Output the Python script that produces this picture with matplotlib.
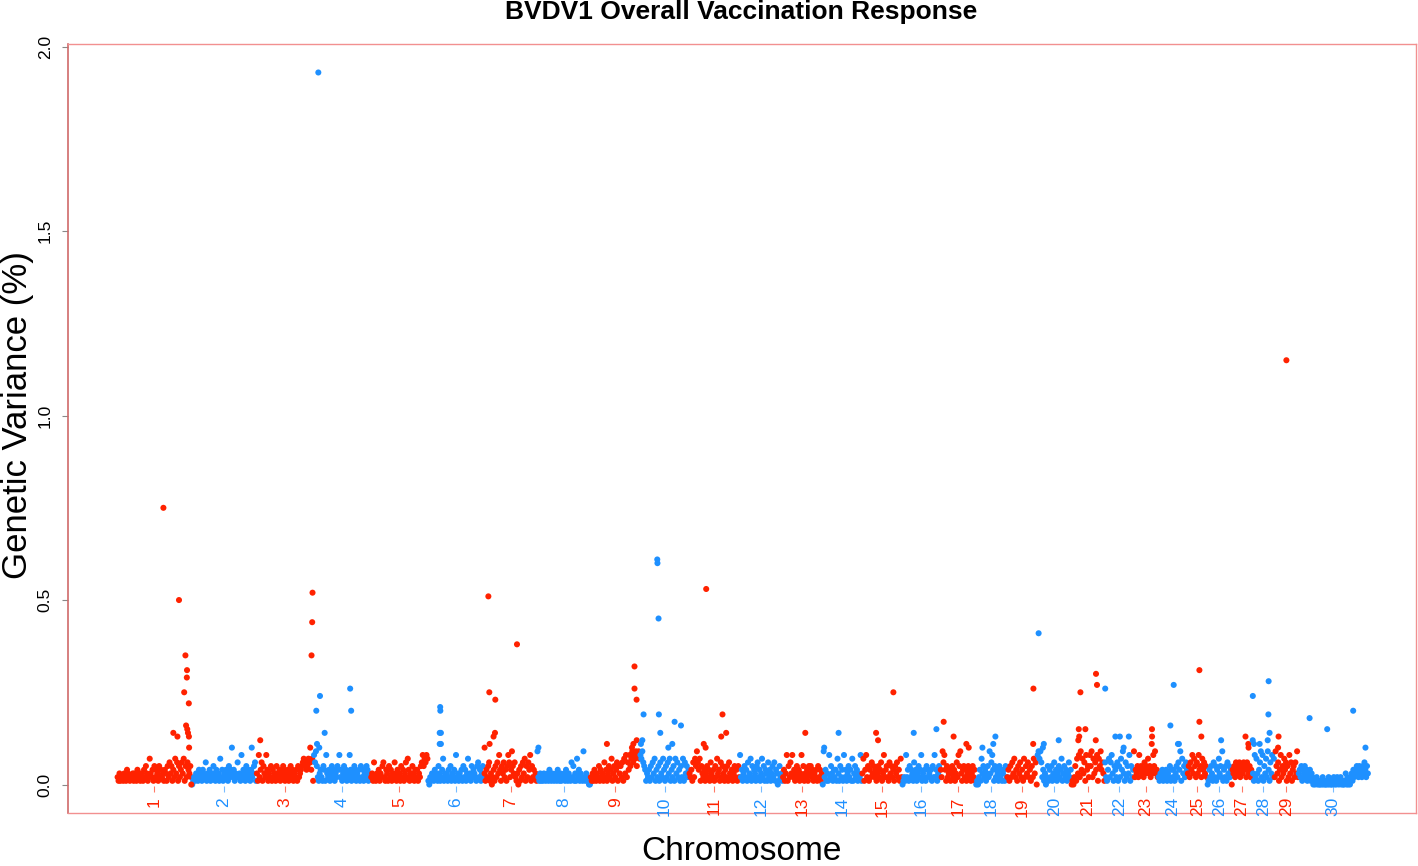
"""BVDV1 overall vaccination response: genetic variance Manhattan plot."""
import matplotlib

matplotlib.use("Agg")
import matplotlib.pyplot as plt
import numpy as np

plt.rcParams["font.family"] = ["Liberation Sans", "DejaVu Sans"]

# chromosome lengths (Mb), chr30 = X
chrom_names = [str(i) for i in range(1, 31)]
chrom_len = [158, 137, 121, 121, 121, 119, 112, 113, 105, 104, 107, 91, 84, 84, 85,
             81, 75, 66, 64, 72, 71, 61, 52, 62, 42, 51, 45, 46, 51, 148]

# background band, one digit per window, in units of 0.01 %
band = [
    "2131221321432122313214231" "3214253127324152431524231" "43152635142736152463715264352",
    "0121321432143261324132531423172413243152432413262318243152431423561",
    "3182461532841325142315324132541324135241324152345675645766471",
    "8695213421541832413524132548241352413284132541324152413254132",
    "2316213241325621431524132631423152413627413253142413256857687",
    "1021321432153124713231425132418231324152413723152432156241352",
    "3142561302415263841536241586249536213041526371526481524231",
    "9213121321231421321231421312231421321625131724132192132100",
    "2131421325142316241352471352461535261738264857968795897",
    "8796541324152637142516327415263714251736241527163524",
    "3241627596471532413524163241527341625314251632413524152",
    "8241352416237152431562413725143162413526143015231",
    "2413815263824135241382513241535241324152413",
    "0924131825314241731524182413524171352413281",
    "3714825142635241352461382452163524153624172",
    "0121824152431624135248132415243241528241352",
    "4296841523413524136285931452413524135241",
    "01024173524135293684152431524134152",
    "2415263724153624172536241527360",
    "8979624130251425136241352471352413624",
    "0102517382947361845285927364817594631",
    "6214726831542615274931625381524",
    "9243528453426354735243859342",
    "2132413241325142413526491735264",
    "3526483752638452746352",
    "0142531625142735291425163524",
    "0435264536245364526435243",
    "3182731469281537294163827",
    "2953614825374615283614526392",
    "3425143524132413201012010010201001020100120102101201001302010231424354253425364253",
]

# windows standing above the band: (chromosome, position Mb, variance %)
peak_chr = [1, 1, 1, 1, 1, 1, 1, 1, 1, 1, 1, 1, 1, 1, 1,
            2, 2,
            3, 3, 3, 3, 3,
            4, 4, 4, 4, 4, 4, 4, 4,
            6, 6, 6, 6, 6, 6,
            7, 7, 7, 7, 7, 7, 7, 7,
            8,
            9, 9, 9, 9, 9, 9, 9,
            10, 10, 10, 10, 10, 10, 10, 10, 10, 10, 10, 10,
            11, 11, 11, 11, 11, 11,
            13, 14, 14, 15, 15, 15, 16, 16,
            17, 17, 17, 17, 18, 18, 18, 19, 19,
            20, 20, 20, 20,
            21, 21, 21, 21, 21, 21, 21, 21,
            22, 22, 22, 22, 22,
            23, 23, 23, 24, 24, 24, 24, 25, 25, 25, 26, 27, 27, 27,
            28, 28, 28, 28, 28, 28, 28, 28,
            29, 29, 29, 30, 30, 30, 30]
peak_pos = [98, 131, 142, 144.6, 146, 147.6, 148, 148.5, 150, 151.8, 152, 152.4, 119, 127.7, 157,
            85, 127,
            8, 113.9, 116.6, 118, 118.7,
            5.7, 7.2, 10, 12, 13.5, 23.4, 77.4, 79.5,
            26, 26.3, 25, 27.5, 25, 27.5,
            1, 9, 11, 11.6, 20, 23, 23.7, 69.6,
            3,
            35, 88, 91, 93.4, 93.4, 97.8, 98,
            2, 5, 7.6, 36.6, 37, 39.3, 40, 43, 68.4, 73.3, 86.8, 60,
            36.2, 68, 70.7, 78.5, 31, 35,
            48, 34.5, 4, 29.9, 34, 66.5, 24.6, 72.6,
            7, 28, 55, 60, 14, 37, 41.5, 55.5, 56,
            3, 14, 45.5, 12,
            15, 16, 17, 19.5, 30, 52, 52.5, 54.6,
            1, 22.5, 32, 51, 40,
            39, 39.2, 38.5, 26, 33, 42, 44, 25.4, 25.4, 29.5, 29.4, 30, 36, 36.5,
            0.5, 0.3, 3, 15, 32, 34, 33.5, 36,
            9, 8, 25.6, 23.7, 61, 116, 142]
peak_val = [0.75, 0.50, 0.25, 0.35, 0.16, 0.29, 0.31, 0.15, 0.14, 0.22, 0.13, 0.10, 0.14, 0.13, 0.00,
            0.10, 0.10,
            0.12, 0.10, 0.35, 0.44, 0.52,
            0.20, 0.11, 1.93, 0.10, 0.24, 0.14, 0.26, 0.20,
            0.21, 0.20, 0.14, 0.14, 0.11, 0.11,
            0.10, 0.51, 0.25, 0.11, 0.13, 0.14, 0.23, 0.38,
            0.10,
            0.11, 0.10, 0.11, 0.32, 0.26, 0.23, 0.12,
            0.11, 0.12, 0.19, 0.61, 0.60, 0.45, 0.19, 0.14, 0.11, 0.17, 0.16, 0.10,
            0.53, 0.13, 0.19, 0.14, 0.11, 0.10,
            0.14, 0.14, 0.10, 0.14, 0.12, 0.25, 0.14, 0.15,
            0.17, 0.13, 0.11, 0.10, 0.10, 0.11, 0.13, 0.11, 0.26,
            0.41, 0.11, 0.12, 0.10,
            0.12, 0.15, 0.13, 0.25, 0.15, 0.12, 0.30, 0.27,
            0.26, 0.13, 0.13, 0.13, 0.10,
            0.15, 0.13, 0.11, 0.16, 0.27, 0.11, 0.11, 0.31, 0.17, 0.13, 0.12, 0.13, 0.11, 0.10,
            0.24, 0.12, 0.11, 0.11, 0.12, 0.28, 0.19, 0.14,
            0.13, 0.10, 1.15, 0.18, 0.15, 0.20, 0.10]

RED = "#ff2200"
BLUE = "#1e90ff"


def chrom_color(i):
    return RED if i % 2 == 0 else BLUE


offset = np.concatenate([[0], np.cumsum(chrom_len)[:-1]])

xs, ys, cs = [], [], []
for i, (L, s) in enumerate(zip(chrom_len, band)):
    vals = np.array([int(c) for c in s]) / 100.0
    pos = offset[i] + (np.arange(len(vals)) + 0.5) * L / len(vals)
    xs.extend(pos)
    ys.extend(vals)
    cs.extend([chrom_color(i)] * len(vals))
for c, p, v in zip(peak_chr, peak_pos, peak_val):
    xs.append(offset[c - 1] + p)
    ys.append(v)
    cs.append(chrom_color(c - 1))

fig = plt.figure(figsize=(14.18, 8.66), dpi=100)
ax = fig.add_axes([68 / 1418, 1 - 813 / 866, (1416 - 68) / 1418, (813 - 44) / 866])
ax.scatter(xs, ys, c=cs, s=19, linewidths=0)

ax.set_xlim(-104, 2750)
ax.set_ylim(-0.0772, 2.0072)
ax.set_xticks([])
ax.set_yticks([0, 0.5, 1.0, 1.5, 2.0])
ax.set_yticklabels(["0.0", "0.5", "1.0", "1.5", "2.0"], rotation=90, va="center", fontsize=12.5)
ax.tick_params(axis="y", length=4, width=0.8, color="#888888", pad=7)
for side in ["top", "right", "bottom"]:
    ax.spines[side].set_color("#f29090")
    ax.spines[side].set_linewidth(1.0)
ax.spines["left"].set_color("#cf6a6a")
ax.spines["left"].set_linewidth(1.2)

# chromosome ticks and labels drawn inside the frame
mids = offset + np.array(chrom_len) / 2.0
for i, (m, name) in enumerate(zip(mids, chrom_names)):
    col = chrom_color(i)
    ax.vlines(m, -0.019, -0.004, colors=col, linewidth=0.8, alpha=0.6)
    ax.text(m, -0.034, name, rotation=90, ha="center", va="top", color=col, fontsize=12.5)

fig.text(741 / 1418, 1 - 12 / 866, "BVDV1 Overall Vaccination Response",
         ha="center", va="center", fontsize=19, fontweight="bold")
fig.text(18 / 1418, 1 - 415 / 866, "Genetic Variance (%)", rotation=90,
         ha="center", va="center", fontsize=25)
fig.text(741 / 1418, 1 - 851 / 866, "Chromosome", ha="center", va="center", fontsize=24)

fig.savefig("out.png", dpi=100)
